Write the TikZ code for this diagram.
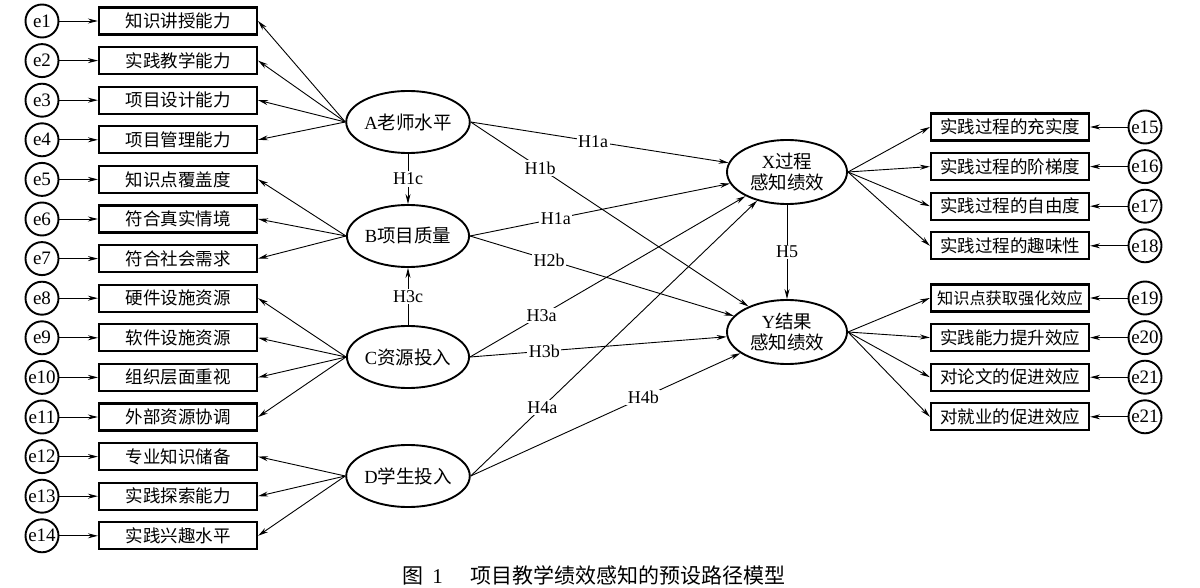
\documentclass[tikz,border=0pt]{standalone}
\usepackage{fontspec}
\setmainfont{Liberation Serif}
\newfontfamily\cjk{Noto Sans CJK SC}
\usetikzlibrary{arrows.meta,shapes.geometric}
\begin{document}
\begin{tikzpicture}[x=1pt,y=-1pt,
  ebox/.style={circle,draw,line width=1.9pt,minimum size=33pt,inner sep=0pt,font=\fontsize{19}{19}\selectfont},
  ibox/.style={draw,line width=2.2pt,minimum width=158pt,minimum height=27pt,inner sep=0pt,font=\fontsize{17.5}{18}\selectfont\cjk},
  lat/.style={ellipse,draw,line width=1.9pt,minimum width=118pt,minimum height=62pt,inner sep=0pt,font=\fontsize{18.5}{19}\selectfont},
  olat/.style={ellipse,draw,line width=1.9pt,minimum width=120pt,minimum height=64pt,inner sep=0pt,align=center,font=\fontsize{18.5}{21}\selectfont},
  arr/.style={-{Stealth[length=10pt,width=5pt]},line width=0.9pt},
  hl/.style={fill=white,inner sep=1.5pt,font=\fontsize{18}{18}\selectfont}
]
\useasboundingbox (0,0) rectangle (1200,588);
% left indicators
\foreach \i/\t in {1/知识讲授能力,2/实践教学能力,3/项目设计能力,4/项目管理能力,5/知识点覆盖度,6/符合真实情境,7/符合社会需求,8/硬件设施资源,9/软件设施资源,10/组织层面重视,11/外部资源协调,12/专业知识储备,13/实践探索能力,14/实践兴趣水平}{
  \node[ebox] (e\i) at (42,{21+(\i-1)*39.6}) {e\i};
  \node[ibox] (m\i) at (178,{21+(\i-1)*39.6}) {\t};
  \draw[arr] (e\i) -- (m\i);
}
% right indicators
\foreach \i/\y/\t/\l in {15/127/实践过程的充实度/e15,16/166.6/实践过程的阶梯度/e16,17/206.2/实践过程的自由度/e17,18/245.8/实践过程的趣味性/e18,19/298/{\fontsize{16.2}{18}\selectfont 知识点获取强化效应}/e19,20/337.6/实践能力提升效应/e20,21/377.2/对论文的促进效应/e21,22/416.8/对就业的促进效应/e21}{
  \node[ebox] (e\i) at (1145,\y) {\l};
  \node[ibox] (m\i) at (1010,\y) {\t};
  \draw[arr] (e\i) -- (m\i);
}
% latent variables
\node[lat] (A) at (408,122) {A{\cjk 老师水平}};
\node[lat] (B) at (408,236) {B{\cjk 项目质量}};
\node[lat] (C) at (408,357) {C{\cjk 资源投入}};
\node[lat] (D) at (408,476) {D{\cjk 学生投入}};
\node[olat] (X) at (787,172) {X{\cjk 过程}\\{\cjk 感知绩效}};
\node[olat] (Y) at (787,332) {Y{\cjk 结果}\\{\cjk 感知绩效}};
% loadings
\foreach \i in {1,...,4}{\draw[arr] (A.west) -- (m\i.east);}
\foreach \i in {5,...,7}{\draw[arr] (B.west) -- (m\i.east);}
\foreach \i in {8,...,11}{\draw[arr] (C.west) -- (m\i.east);}
\foreach \i in {12,...,14}{\draw[arr] (D.west) -- (m\i.east);}
\foreach \i in {15,...,18}{\draw[arr] (X.east) -- (m\i.west);}
\foreach \i in {19,...,22}{\draw[arr] (Y.east) -- (m\i.west);}
% structural paths
\draw[arr] (A.east) -- node[hl,pos=0.475]{H1a} (X);
\draw[arr] (A.east) -- node[hl,pos=0.25]{H1b} (Y);
\draw[arr] (B.east) -- node[hl,pos=0.33]{H1a} (X);
\draw[arr] (B.east) -- node[hl,pos=0.3]{H2b} (Y);
\draw[arr] (C.east) -- node[hl,pos=0.26]{H3a} (X);
\draw[arr] (C.east) -- node[hl,pos=0.29]{H3b} (Y);
\draw[arr] (D.east) -- node[hl,pos=0.25]{H4a} (X);
\draw[arr] (D.east) -- node[hl,pos=0.64]{H4b} (Y);
\draw[arr] (A) -- node[hl]{H1c} (B);
\draw[arr] (C) -- node[hl]{H3c} (B);
\draw[arr] (X) -- node[hl]{H5} (Y);
% caption
\node[font=\fontsize{21}{22}\selectfont] (cap) at (594,575) {{\cjk 图}\hspace{0.4em}1\hspace{1.3em}{\cjk 项目教学绩效感知的预设路径模型}};
\end{tikzpicture}
\end{document}
